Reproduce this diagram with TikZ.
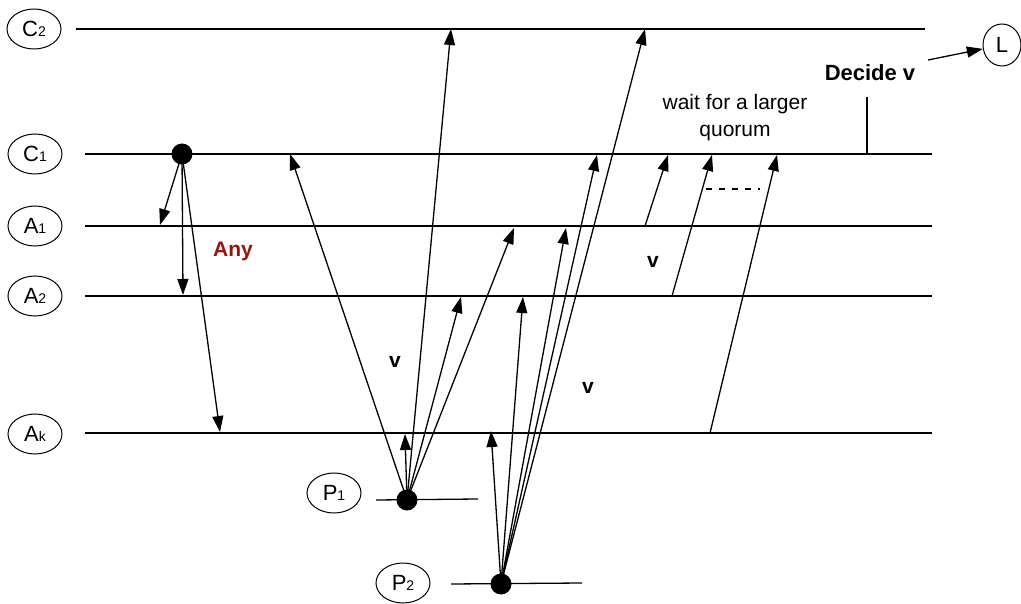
\documentclass[tikz,border=0pt]{standalone}
\usepackage{fontspec}
\setmainfont{Liberation Sans}
\usetikzlibrary{arrows.meta,shapes.geometric}
\definecolor{anyred}{RGB}{155,20,10}
\tikzset{
  lane/.style={line width=1.3pt},
  msg/.style={line width=1.3pt,-{Triangle[length=16pt,width=11pt]}},
  proc/.style={draw,ellipse,line width=1pt,minimum width=54pt,minimum height=40pt,inner sep=0pt,font=\fontsize{22}{22}\selectfont},
  dot/.style={circle,fill=black,minimum size=21pt,inner sep=0pt},
  lbl/.style={font=\fontsize{21}{21}\selectfont\bfseries}
}
\newcommand{\sbs}[1]{{\fontsize{14}{14}\selectfont #1}}
\begin{document}
\begin{tikzpicture}[x=1pt,y=-1pt]
\useasboundingbox (0,0) rectangle (1021,604);
% process labels
\node[proc] (C2) at (34,29) {C\sbs{2}};
\node[proc] (C1) at (35,154) {C\sbs{1}};
\node[proc] (A1) at (35,226) {A\sbs{1}};
\node[proc] (A2) at (35,296) {A\sbs{2}};
\node[proc] (Ak) at (35,434) {A\sbs{k}};
\node[proc] (P1) at (334,493) {P\sbs{1}};
\node[proc] (P2) at (403,583) {P\sbs{2}};
\node[proc,minimum width=38pt,minimum height=42pt] (L) at (1002,45) {L};
% lanes
\coordinate (c2s) at (76,29); \coordinate (c2e) at (925,29);
\coordinate (c1s) at (85,154); \coordinate (c1e) at (932,154);
\coordinate (a1s) at (85,226); \coordinate (a1e) at (932,226);
\coordinate (a2s) at (85,296); \coordinate (a2e) at (932,296);
\coordinate (aks) at (85,433); \coordinate (ake) at (932,433);
\coordinate (p1s) at (376,500); \coordinate (p1e) at (478,499);
\coordinate (p2s) at (451,584); \coordinate (p2e) at (582,583);
\draw[lane] (c2s) -- (c2e);
\draw[lane] (c1s) -- (c1e);
\draw[lane] (a1s) -- (a1e);
\draw[lane] (a2s) -- (a2e);
\draw[lane] (aks) -- (ake);
\draw[lane] (p1s) -- (p1e);
\draw[lane] (p2s) -- (p2e);
% dots
\node[dot] (d0) at (182,154) {};
\node[dot] (d1) at (407,500) {};
\node[dot] (d2) at (501,584) {};
% arrow ends
\coordinate (t0a) at (160,225);
\coordinate (t0b) at (183,295);
\coordinate (t0c) at (220,432);
\coordinate (t1a) at (290,154);
\coordinate (t1b) at (451,29);
\coordinate (t1c) at (405,434);
\coordinate (t1d) at (461,297);
\coordinate (t1e) at (514,228);
\coordinate (t2a) at (491,431);
\coordinate (t2b) at (523,297);
\coordinate (t2c) at (566,228);
\coordinate (t2d) at (597,155);
\coordinate (t2e) at (645,29);
\coordinate (s3) at (645,226); \coordinate (t3) at (668,155);
\coordinate (s4) at (672,296); \coordinate (t4) at (712,155);
\coordinate (s5) at (710,433); \coordinate (t5) at (777,155);
\coordinate (dsh1) at (706,189); \coordinate (dsh2) at (760,189);
\coordinate (tk1) at (867,97); \coordinate (tk2) at (867,155);
\coordinate (ls) at (928,60);
% arrows from C1
\draw[msg] (d0.center) -- (t0a);
\draw[msg] (d0.center) -- (t0b);
\draw[msg] (d0.center) -- (t0c);
% arrows from P1
\draw[msg] (d1.center) -- (t1a);
\draw[msg] (d1.center) -- (t1b);
\draw[msg] (d1.center) -- (t1c);
\draw[msg] (d1.center) -- (t1d);
\draw[msg] (d1.center) -- (t1e);
% arrows from P2
\draw[msg] (d2.center) -- (t2a);
\draw[msg] (d2.center) -- (t2b);
\draw[msg] (d2.center) -- (t2c);
\draw[msg] (d2.center) -- (t2d);
\draw[msg] (d2.center) -- (t2e);
% acceptor to C1
\draw[msg] (s3) -- (t3);
\draw[msg] (s4) -- (t4);
\draw[msg] (s5) -- (t5);
\draw[line width=1.3pt,dash pattern=on 6pt off 7pt] (dsh1) -- (dsh2);
\draw[line width=1.2pt] (tk1) -- (tk2);
\draw[msg] (ls) -- (L);
% texts
\node[lbl,text=anyred] (any) at (233,251) {Any};
\node[lbl] (v1) at (395,362) {v};
\node[lbl] (v2) at (588,388) {v};
\node[lbl] (v3) at (653,262) {v};
\node[font=\fontsize{22}{22}\selectfont\bfseries] (dec) at (870,73) {Decide v};
\node[font=\fontsize{21}{27}\selectfont,align=center] (wait) at (735,118) {wait for a larger\\quorum};
\end{tikzpicture}
\end{document}
